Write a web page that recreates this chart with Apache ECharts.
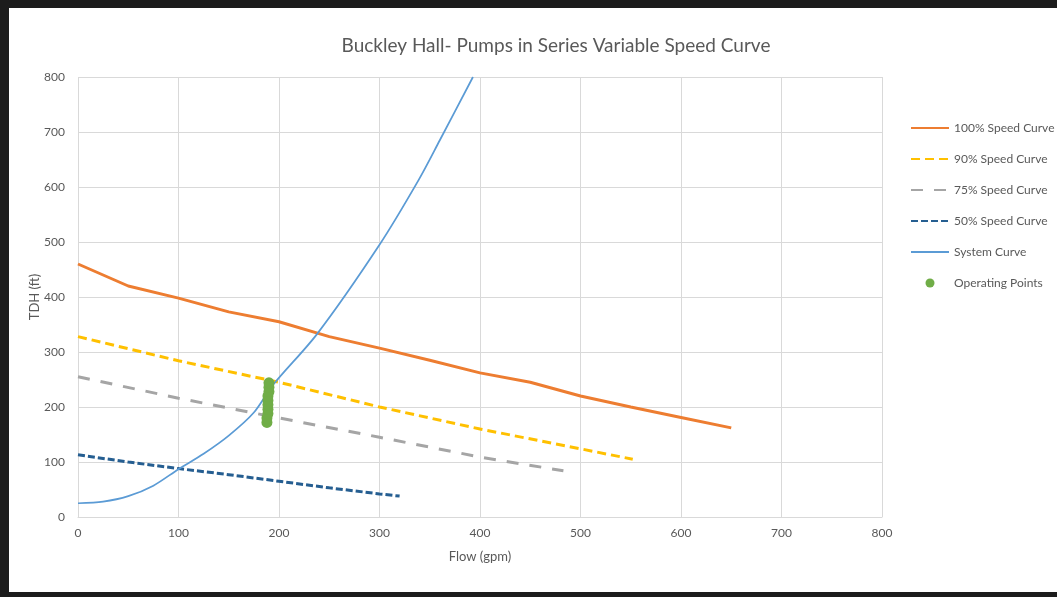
<!DOCTYPE html>
<html>
<head>
<meta charset="utf-8">
<script src="https://cdn.jsdelivr.net/npm/echarts@6/dist/echarts.min.js"></script>
<style>
html,body{margin:0;padding:0;background:#fff;}
#chart{position:absolute;left:0;top:0;width:1057px;height:597px;}
#frame{position:absolute;left:0;top:0;width:1057px;height:597px;box-sizing:border-box;
 border-top:8px solid #1c1c1c;border-left:9px solid #1c1c1c;border-bottom:5px solid #1c1c1c;pointer-events:none;}
</style>
</head>
<body>
<div id="chart"></div>
<div id="frame"></div>
<script>
// Flow (gpm) / TDH (ft) pairs
const speed100 = [[0,460],[50,420],[100,398],[150,373],[200,355],[250,328],[300,307],[350,285],[400,262],[450,245],[500,220],[550,200],[600,181],[650,162]];
const speed90 = [[0,328],[100,284],[200,245],[300,200],[400,160],[500,124],[552,105]];
const speed75 = [[0,255],[100,216],[200,180],[300,145],[400,109],[483,84]];
const speed50 = [[0,113],[50,100],[100,88],[150,77],[200,65],[250,53],[300,42],[320,38]];
const systemCurve = [[0,25],[25,28],[50,38],[75,57],[100,87],[125,115],[150,148],[175,190],[194,240],[238,333],[300,495],[339,613],[360,685],[393,800]];
const operatingPoints = [[188,172],[188,180],[189,188],[189,196],[189,204],[189,212],[189,220],[190,228],[190,236],[190,244]];
const seriesNames = ['100% Speed Curve','90% Speed Curve','75% Speed Curve','50% Speed Curve','System Curve','Operating Points'];
const chartTitle = 'Buckley Hall- Pumps in Series Variable Speed Curve';

const txt = '#595959';
const font = 'Lato, "Open Sans", sans-serif';
const chart = echarts.init(document.getElementById('chart'), null, {renderer:'canvas'});
function lineSeries(name, data, color, width, type) {
  return {name, type:'line', data, symbol:'none', showSymbol:false, smooth:false,
    lineStyle:{color, width, type, cap:'butt'}, itemStyle:{color}, z:2, animation:false};
}
const legendData = seriesNames.map((n, i) => i < 5 ? {name:n, itemStyle:{opacity:0}} : {name:n, icon:'circle'});
chart.setOption({
  backgroundColor:'#fff',
  animation:false,
  textStyle:{fontFamily:font},
  title:{text:chartTitle, left:551, textAlign:'center', top:31,
    textStyle:{color:txt, fontSize:19, fontWeight:'normal', fontFamily:font}},
  grid:{left:78, right:175, top:77, bottom:80},
  legend:{orient:'vertical', left:905, top:117, itemWidth:38, itemHeight:9, itemGap:19,
    textStyle:{color:txt, fontSize:12, fontFamily:font}, data:legendData},
  xAxis:{type:'value', min:0, max:800, interval:100, name:'Flow (gpm)', nameLocation:'middle', nameGap:33,
    nameTextStyle:{color:txt, fontSize:13, fontFamily:font},
    axisLine:{show:true, lineStyle:{color:'#d9d9d9'}}, axisTick:{show:false},
    axisLabel:{color:txt, fontSize:12, margin:10, fontFamily:font},
    splitLine:{show:true, lineStyle:{color:'#d9d9d9'}}},
  yAxis:{type:'value', min:0, max:800, interval:100, name:'TDH (ft)', nameLocation:'middle', nameGap:37,
    nameMoveOverlap:false,
    nameTextStyle:{color:txt, fontSize:13, fontFamily:font},
    axisLine:{show:false}, axisTick:{show:false},
    axisLabel:{color:txt, fontSize:12, margin:13, fontFamily:font},
    splitLine:{show:true, lineStyle:{color:'#d9d9d9'}}},
  series:[
    lineSeries(seriesNames[0], speed100, '#ED7D31', 3, 'solid'),
    lineSeries(seriesNames[1], speed90, '#FFC000', 3, [9,5]),
    lineSeries(seriesNames[2], speed75, '#A5A5A5', 3, [12,11]),
    lineSeries(seriesNames[3], speed50, '#255E91', 3, [7,3]),
    Object.assign(lineSeries(seriesNames[4], systemCurve, '#5B9BD5', 1.75, 'solid'), {smooth:0.3}),
    {name:seriesNames[5], type:'scatter', data:operatingPoints, symbol:'circle', symbolSize:11,
      itemStyle:{color:'#70AD47', opacity:1}, z:3, animation:false}
  ]
});
</script>
</body>
</html>
